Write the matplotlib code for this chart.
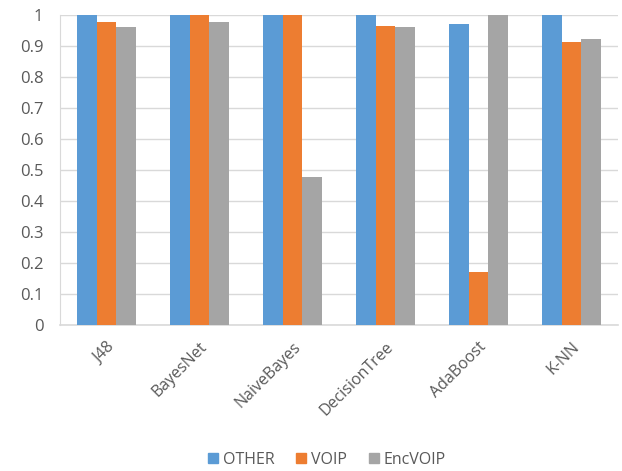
import numpy as np
import matplotlib
matplotlib.use("Agg")
import matplotlib.pyplot as plt

categories = ["J48", "BayesNet", "NaiveBayes", "DecisionTree", "AdaBoost", "K-NN"]
other = [1.0, 1.0, 1.0, 1.0, 0.971, 1.0]
voip = [0.976, 1.0, 1.0, 0.966, 0.170, 0.912]
encvoip = [0.960, 0.976, 0.476, 0.960, 1.0, 0.924]
series_names = ["OTHER", "VOIP", "EncVOIP"]
yticks = [0, 0.1, 0.2, 0.3, 0.4, 0.5, 0.6, 0.7, 0.8, 0.9, 1]
ytick_labels = ["0", "0.1", "0.2", "0.3", "0.4", "0.5", "0.6", "0.7", "0.8", "0.9", "1"]

colors = ["#5B9BD5", "#ED7D31", "#A5A5A5"]
text_color = "#595959"
grid_color = "#D9D9D9"

plt.rcParams["font.family"] = ["Open Sans", "DejaVu Sans"]

fig = plt.figure(figsize=(6.22, 4.71), dpi=100)
ax = fig.add_axes([60 / 622, 1 - 325 / 471, 558 / 622, 310 / 471])

x = np.arange(len(categories))
w = 0.215
for i, (vals, name) in enumerate(zip([other, voip, encvoip], series_names)):
    ax.bar(x + (i - 1) * w, vals, width=w, color=colors[i], label=name, zorder=3)

ax.set_xlim(-0.5, len(categories) - 0.5)
ax.set_ylim(0, 1)
ax.set_yticks(yticks)
ax.set_yticklabels(ytick_labels, fontsize=12, color=text_color)
ax.set_xticks(x)
ax.set_xticklabels(categories, rotation=45, ha="right", rotation_mode="anchor",
                   fontsize=11.5, color=text_color)
ax.tick_params(axis="both", length=0)
ax.tick_params(axis="y", pad=12)
ax.tick_params(axis="x", pad=10)
ax.yaxis.grid(True, color=grid_color, linewidth=1, zorder=0)
ax.set_axisbelow(True)
for side in ["top", "right"]:
    ax.spines[side].set_visible(False)
ax.spines["left"].set_color(grid_color)
ax.spines["bottom"].set_color(grid_color)
ax.spines["bottom"].set_linewidth(1.2)

handles = [plt.Line2D([], [], marker="s", linestyle="", markersize=7,
                      color=c) for c in colors]
fig.legend(handles, series_names, loc="center", bbox_to_anchor=(0.525, 1 - 460 / 471),
           ncol=3, frameon=False, fontsize=11.5, handlelength=0.7,
           handletextpad=0.3, columnspacing=1.3, labelcolor=text_color)

fig.savefig("out.png", dpi=100, facecolor="white")
